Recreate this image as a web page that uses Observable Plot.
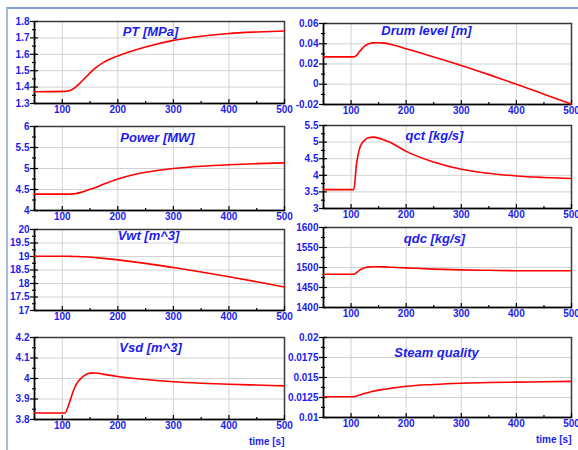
<!DOCTYPE html>
<html><head><meta charset="utf-8">
<script src="https://cdn.jsdelivr.net/npm/d3@7"></script>
<script src="https://cdn.jsdelivr.net/npm/@observablehq/plot@0.6"></script>
<style>
html,body{margin:0;padding:0;background:#fff;}
body{width:578px;height:450px;overflow:hidden;position:relative;font-family:"Liberation Sans",Arial,sans-serif;}
#deco{position:absolute;left:6px;top:7px;width:600px;height:460px;border-top:2px solid #86a3d2;border-left:2px solid #a6bcdf;box-sizing:border-box;}
.panel{position:absolute;}
</style></head><body>
<div id="deco"></div>
<div id="root"></div>
<script>
// ---- data ----
const time = [50, 105, 110, 115, 120, 125, 130, 140, 150, 160, 175, 200, 250, 300, 350, 400, 450, 500];
const ptValues = [1.372, 1.374, 1.376, 1.381, 1.39, 1.403, 1.418, 1.452, 1.487, 1.517, 1.552, 1.59, 1.645, 1.685, 1.71, 1.727, 1.736, 1.742];
const drumValues = [0.027, 0.027, 0.0285, 0.032, 0.0352, 0.0378, 0.0396, 0.0409, 0.041, 0.0406, 0.0391, 0.035, 0.027, 0.0186, 0.0095, 0.0, -0.0098, -0.0197];
const powerValues = [4.39, 4.39, 4.39, 4.39, 4.395, 4.405, 4.42, 4.46, 4.505, 4.55, 4.63, 4.75, 4.91, 5.0, 5.055, 5.09, 5.115, 5.135];
const qctValues = [3.57, 3.57, 4.35, 4.78, 4.97, 5.06, 5.12, 5.15, 5.12, 5.06, 4.96, 4.72, 4.4, 4.18, 4.06, 3.98, 3.935, 3.905];
const vwtValues = [19.01, 19.01, 19.01, 19.005, 19.0, 19.0, 18.995, 18.99, 18.975, 18.96, 18.93, 18.875, 18.745, 18.59, 18.425, 18.25, 18.065, 17.87];
const qdcValues = [1483, 1483, 1487, 1493, 1497, 1499.5, 1501, 1502, 1502, 1501.5, 1500.5, 1499, 1496, 1494, 1493, 1492, 1492, 1492];
const vsdValues = [3.832, 3.832, 3.86, 3.9, 3.94, 3.97, 3.99, 4.015, 4.026, 4.027, 4.02, 4.01, 3.995, 3.984, 3.977, 3.972, 3.968, 3.964];
const steamValues = [0.0126, 0.0126, 0.01268, 0.0128, 0.0129, 0.01302, 0.0131, 0.01327, 0.01342, 0.01353, 0.01367, 0.0139, 0.01413, 0.01428, 0.01437, 0.01442, 0.01447, 0.01452];

const titles = ["PT [MPa]", "Drum level [m]", "Power [MW]", "qct [kg/s]", "Vwt [m^3]", "qdc [kg/s]", "Vsd [m^3]", "Steam quality"];
const xDomain = [50, 500];
const xTicks = [100, 200, 300, 400, 500];
const xMinorTicks = [50, 150, 250, 350, 450];
const xLabel = "time [s]";
const ptTicks = [1.3, 1.4, 1.5, 1.6, 1.7, 1.8];
const drumTicks = [-0.02, 0, 0.02, 0.04, 0.06];
const powerTicks = [4, 4.5, 5, 5.5, 6];
const qctTicks = [3, 3.5, 4, 4.5, 5, 5.5];
const vwtTicks = [17, 17.5, 18, 18.5, 19, 19.5, 20];
const qdcTicks = [1400, 1450, 1500, 1550, 1600];
const vsdTicks = [3.8, 3.9, 4, 4.1, 4.2];
const steamTicks = [0.01, 0.0125, 0.015, 0.0175, 0.02];

// ---- layout (positions/styles only) ----
const series = [ptValues, drumValues, powerValues, qctValues, vwtValues, qdcValues, vsdValues, steamValues];
const tickSets = [ptTicks, drumTicks, powerTicks, qctTicks, vwtTicks, qdcTicks, vsdTicks, steamTicks];
const layout = [
  {col: 0, top: 21, h: 82, tdx: -9, tdy: 10},
  {col: 1, top: 23, h: 81, tdx: -21, tdy: 7},
  {col: 0, top: 126, h: 84, tdx: -2, tdy: 11},
  {col: 1, top: 125, h: 83, tdx: -13, tdy: 10},
  {col: 0, top: 229, h: 81, tdx: -11, tdy: 6},
  {col: 1, top: 227, h: 80, tdx: -13, tdy: 11},
  {col: 0, top: 337, h: 82, tdx: -9, tdy: 10, bottom: true},
  {col: 1, top: 337, h: 80, tdx: -11, tdy: 15, bottom: true}
];
const cols = [
  {left: 0, width: 292, ml: 34, mr: 8},
  {left: 288, width: 290, ml: 35, mr: 7}
];
const BLUE = "#1c1cf0";
const MT = 12;

const root = document.getElementById("root");
series.forEach((vals, i) => {
  const lay = layout[i], col = cols[lay.col], ticks = tickSets[i];
  const yDomain = [ticks[0], ticks[ticks.length - 1]];
  const yMinor = ticks.slice(1).map((t, k) => (t + ticks[k]) / 2);
  const data = time.map((t, k) => ({t, v: vals[k]}));
  const mb = lay.bottom ? 30 : 18;
  const svg = Plot.plot({
    width: col.width,
    height: MT + lay.h + mb,
    marginTop: MT, marginBottom: mb, marginLeft: col.ml, marginRight: col.mr,
    x: {domain: xDomain, label: null},
    y: {domain: yDomain, label: null},
    style: {background: "transparent", fontFamily: "'Liberation Sans', Arial, sans-serif", fontSize: "10px", overflow: lay.col === 0 ? "visible" : "hidden"},
    marks: [
      Plot.gridX(xTicks.slice(0, -1), {stroke: "#d2d2d2", strokeOpacity: 1}),
      Plot.gridY(ticks.slice(1, -1), {stroke: "#d2d2d2", strokeOpacity: 1}),
      Plot.frame({stroke: "#3a3a3a", strokeWidth: 1.5}),
      Plot.ruleX([xDomain[0]], {stroke: "#000", strokeWidth: 1.5}),
      Plot.ruleY([yDomain[0]], {stroke: "#000", strokeWidth: 1.5}),
      Plot.axisY(ticks, {tickSize: 0, tickPadding: 5, tickFormat: d => String(d), fill: BLUE, fontWeight: "bold", fontSize: 10}),
      Plot.axisY(ticks, {tickSize: 8, dx: 4, tickFormat: () => "", stroke: "#000", strokeWidth: 1.2}),
      Plot.axisY(yMinor, {tickSize: 4, dx: 2, tickFormat: () => "", stroke: "#000", strokeWidth: 1.2}),
      Plot.axisX(xTicks, {tickSize: 0, tickPadding: 2, tickFormat: d => String(d), fill: BLUE, fontWeight: "bold", fontSize: 10}),
      Plot.axisX(xTicks, {tickSize: 5, dy: -4, tickFormat: () => "", stroke: "#000", strokeWidth: 1.2}),
      Plot.axisX(xMinorTicks, {tickSize: 3, dy: -2, tickFormat: () => "", stroke: "#000", strokeWidth: 1.2}),
      Plot.line(data, {x: "t", y: "v", stroke: "#ff0000", strokeWidth: 1.6, curve: "monotone-x"}),
      Plot.text([titles[i]], {frameAnchor: "top", dx: lay.tdx, dy: lay.tdy, text: d => d, fill: BLUE, fontStyle: "italic", fontWeight: "bold", fontSize: 13, lineAnchor: "middle"}),
      lay.bottom ? Plot.text([xLabel], {frameAnchor: "bottom-right", dy: 22, text: d => d, textAnchor: "end", lineAnchor: "middle", fill: BLUE, fontWeight: "bold", fontSize: 10, letterSpacing: "0.3px"}) : null
    ]
  });
  const wrap = document.createElement("div");
  wrap.className = "panel";
  wrap.style.left = col.left + "px";
  wrap.style.top = (lay.top - MT) + "px";
  wrap.appendChild(svg);
  root.appendChild(wrap);
});
</script>
</body></html>
